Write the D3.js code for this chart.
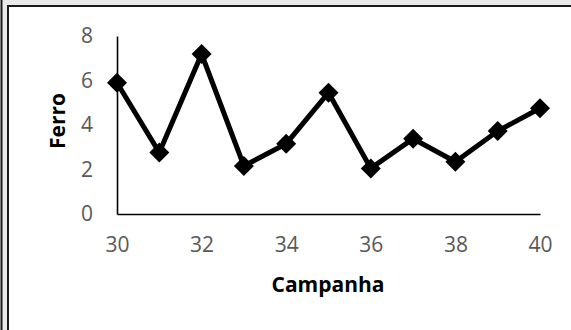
<!DOCTYPE html>
<html><head><meta charset="utf-8">
<script src="https://cdn.jsdelivr.net/npm/d3@7"></script>
<style>html,body{margin:0;padding:0;background:#fff;}svg{display:block;}</style>
</head><body>
<script>
const campanha = [30,31,32,33,34,35,36,37,38,39,40];
const ferro = [5.9,2.76,7.19,2.16,3.16,5.45,2.05,3.38,2.35,3.73,4.75];
const xTicks = [30,32,34,36,38,40];
const yTicks = [0,2,4,6,8];

const W=571,H=330;
const svg=d3.select("body").append("svg").attr("width",W).attr("height",H);
// frame
svg.append("rect").attr("x",0).attr("y",0).attr("width",W).attr("height",H).attr("fill","#e9e9e9");
svg.append("rect").attr("x",8).attr("y",6).attr("width",W).attr("height",H).attr("fill","#fff");
svg.append("line").attr("x1",1.5).attr("x2",1.5).attr("y1",0).attr("y2",H).attr("stroke","#1a1a1a").attr("stroke-width",2);
svg.append("line").attr("x1",8).attr("x2",8).attr("y1",5).attr("y2",H).attr("stroke","#1a1a1a").attr("stroke-width",2);
svg.append("line").attr("x1",7).attr("x2",W).attr("y1",6).attr("y2",6).attr("stroke","#1a1a1a").attr("stroke-width",2);

const x=d3.scaleLinear().domain([30,40]).range([117,540]);
const y=d3.scaleLinear().domain([0,8]).range([214,36]);

const xAxis=svg.append("g").attr("transform","translate(0,214)")
  .call(d3.axisBottom(x).tickValues(xTicks).tickSize(0).tickPadding(22).tickFormat(d3.format("d")));
const yAxis=svg.append("g").attr("transform","translate(117,0)")
  .call(d3.axisLeft(y).tickValues(yTicks).tickSize(0).tickPadding(24).tickFormat(d3.format("d")));
[xAxis,yAxis].forEach(a=>{
  a.select(".domain").attr("stroke","#000").attr("stroke-width",1.6);
  a.selectAll("text").attr("font-family","'Open Sans'").attr("font-size",21).attr("fill","#595959");
});
xAxis.selectAll("text").attr("dy","0.35em").attr("y",31);

const line=d3.line().x((d,i)=>x(campanha[i])).y(d=>y(d));
svg.append("path").datum(ferro).attr("d",line).attr("fill","none").attr("stroke","#000").attr("stroke-width",5).attr("stroke-linejoin","miter");
const sym=d3.symbol().type(d3.symbolSquare).size(200);
svg.selectAll(".m").data(ferro).enter().append("path")
  .attr("d",sym).attr("fill","#000")
  .attr("transform",(d,i)=>`translate(${x(campanha[i])},${y(d)}) rotate(45)`);

svg.append("text").attr("x",328).attr("y",285).attr("dy","0.35em").attr("text-anchor","middle")
  .attr("font-family","'Open Sans'").attr("font-weight","bold").attr("font-size",21).attr("fill","#000").text("Campanha");
svg.append("text").attr("transform","translate(58,121) rotate(-90)").attr("dy","0.35em").attr("text-anchor","middle")
  .attr("font-family","'Open Sans'").attr("font-weight","bold").attr("font-size",21).attr("fill","#000").text("Ferro");
</script>
</body></html>
